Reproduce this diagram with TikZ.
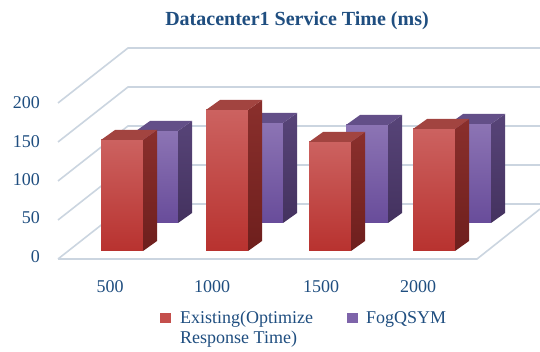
\documentclass[tikz,border=0pt]{standalone}
\usepackage{fontspec}
\setmainfont{Liberation Serif}
\definecolor{txtblue}{HTML}{1F4E80}
\definecolor{gridc}{HTML}{CBD5E0}
\definecolor{redA}{HTML}{CC6260}
\definecolor{redB}{HTML}{B8322F}
\definecolor{redS}{HTML}{8A2F2C}
\definecolor{redS2}{HTML}{6E1F1D}
\definecolor{redT}{HTML}{A24440}
\definecolor{purA}{HTML}{8C74B4}
\definecolor{purB}{HTML}{684C9A}
\definecolor{purS}{HTML}{574478}
\definecolor{purS2}{HTML}{44325F}
\definecolor{purT}{HTML}{634F88}
% one 3-D column: x0, top, bottom, front top colour, front bottom colour, side top, side bottom, top face
\newcommand\column[8]{%
  \shade[top color=#4, bottom color=#5] (#1,#2) rectangle (#1+42,#3);
  \shade[top color=#6, bottom color=#7] (#1+42,#2) -- (#1+56,#2-10) -- (#1+56,#3-10) -- (#1+42,#3) -- cycle;
  \fill[#8] (#1,#2) -- (#1+42,#2) -- (#1+56,#2-10) -- (#1+14,#2-10) -- cycle;
}
\begin{document}
\begin{tikzpicture}[x=1pt,y=-1pt,
  gridline/.style={draw=gridc, line width=1.6pt},
  lbl/.style={text=txtblue, font=\fontsize{18}{20}\selectfont, inner sep=0pt},
  ttl/.style={text=txtblue, font=\fontsize{20}{22}\selectfont\bfseries, inner sep=0pt},
  keybox/.style={inner sep=0pt, minimum width=11pt, minimum height=10pt}]
\useasboundingbox[fill=white] (0,0) rectangle (540,352);

% walls and floor
\foreach \y in {48,87,126,165,204}{
  \draw[gridline] (58,\y+55) -- (128,\y) -- (540,\y);
}
\draw[gridline] (58,259) -- (477,259) -- (540,209);

% back row
\column{136}{131}{223}{purA}{purB}{purS}{purS2}{purT}
\column{241}{123}{223}{purA}{purB}{purS}{purS2}{purT}
\column{346}{125}{223}{purA}{purB}{purS}{purS2}{purT}
\column{449}{124}{223}{purA}{purB}{purS}{purS2}{purT}
% front row
\column{101}{140}{251}{redA}{redB}{redS}{redS2}{redT}
\column{206}{110}{251}{redA}{redB}{redS}{redS2}{redT}
\column{309}{142}{251}{redA}{redB}{redS}{redS2}{redT}
\column{413}{129}{251}{redA}{redB}{redS}{redS2}{redT}

% title
\node[ttl, anchor=base] (title) at (297,26) {Datacenter1 Service Time (ms)};

% value axis
\node[lbl, anchor=base east] (y200) at (40,109) {200};
\node[lbl, anchor=base east] (y150) at (40,148) {150};
\node[lbl, anchor=base east] (y100) at (40,186) {100};
\node[lbl, anchor=base east] (y50)  at (40,224) {50};
\node[lbl, anchor=base east] (y0)   at (40,263) {0};

% category axis
\node[lbl, anchor=base] (x500)  at (110,292) {500};
\node[lbl, anchor=base] (x1000) at (212,292) {1000};
\node[lbl, anchor=base] (x1500) at (321,292) {1500};
\node[lbl, anchor=base] (x2000) at (418,292) {2000};

% legend
\node[keybox, fill=redA!60!redB, anchor=north west] (keyred) at (160,313) {};
\node[lbl, anchor=base west] (legred) at (180,323) {Existing(Optimize};
\node[lbl, anchor=base west] (legred2) at (180,343) {Response Time)};
\node[keybox, fill=purA!60!purB, anchor=north west] (keypur) at (347,313) {};
\node[lbl, anchor=base west] (legpur) at (366,323) {FogQSYM};
\end{tikzpicture}
\end{document}
